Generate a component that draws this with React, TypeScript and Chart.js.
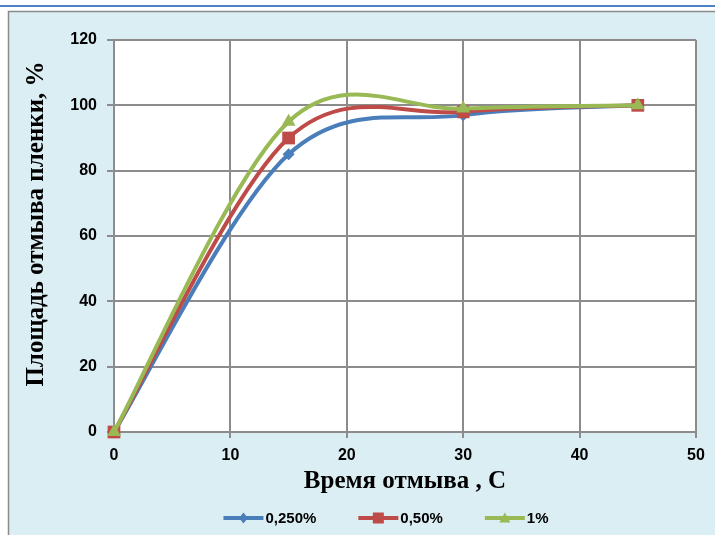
import React, { useEffect, useRef } from 'react';
import { Chart, registerables } from 'chart.js';

Chart.register(...registerables);

const timeValues = [0, 15, 30, 45];
const area025 = [0, 85, 97, 100];
const area050 = [0, 90, 98, 100];
const area1 = [0, 95, 99, 100];
const seriesNames = ['0,250%', '0,50%', '1%'];
const seriesColors = ['#4a7ebb', '#be4b48', '#98b954'];
const seriesMarkers = ['rectRot', 'rect', 'triangle'];
const xTickValues = [0, 10, 20, 30, 40, 50];
const yTickValues = [0, 20, 40, 60, 80, 100, 120];
const xTitle = 'Время отмыва , С';
const yTitle = 'Площадь отмыва пленки, %';

const GRID = '#8c8c8c';
const BG = '#dbeef4';
const TITLE_FONT = 'bold 25px "Liberation Serif", "Times New Roman", serif';

function drawMarker(ctx: CanvasRenderingContext2D, style: string, x: number, y: number, r: number, color: string) {
  ctx.save();
  ctx.fillStyle = color;
  ctx.beginPath();
  if (style === 'rectRot') {
    ctx.moveTo(x, y - r);
    ctx.lineTo(x + r * 0.8, y);
    ctx.lineTo(x, y + r);
    ctx.lineTo(x - r * 0.8, y);
  } else if (style === 'rect') {
    ctx.rect(x - r, y - r, 2 * r, 2 * r);
  } else {
    ctx.moveTo(x, y - r);
    ctx.lineTo(x + r, y + r * 0.8);
    ctx.lineTo(x - r, y + r * 0.8);
  }
  ctx.closePath();
  ctx.fill();
  ctx.restore();
}

// Excel-style smoothing: Catmull-Rom control points (1/6 of neighbour span)
const excelSmoothPlugin = {
  id: 'excelSmooth',
  beforeDatasetDraw(chart: any, args: any) {
    const meta = args.meta;
    const line = meta.dataset;
    if (!line) return;
    line.updateControlPoints(chart.chartArea, meta.indexAxis || 'x');
    const pts = meta.data;
    const n = pts.length;
    for (let i = 0; i < n; i++) {
      const p = pts[i];
      const prev = pts[Math.max(0, i - 1)];
      const next = pts[Math.min(n - 1, i + 1)];
      const dx = (next.x - prev.x) / 6;
      const dy = (next.y - prev.y) / 6;
      p.cp1x = p.x - dx;
      p.cp1y = p.y - dy;
      p.cp2x = p.x + dx;
      p.cp2y = p.y + dy;
    }
  },
};

const backgroundPlugin = {
  id: 'bgPlugin',
  beforeDraw(chart: any) {
    const { ctx, width, height, chartArea } = chart;
    ctx.save();
    ctx.fillStyle = '#ffffff';
    ctx.fillRect(0, 0, width, height);
    ctx.fillStyle = BG;
    ctx.fillRect(9, 11, width - 9, height - 11);
    ctx.strokeStyle = '#4f7fc4';
    ctx.lineWidth = 2;
    ctx.beginPath();
    ctx.moveTo(0, 6);
    ctx.lineTo(width, 6);
    ctx.stroke();
    ctx.strokeStyle = '#8a8a8a';
    ctx.lineWidth = 1.5;
    ctx.beginPath();
    ctx.moveTo(8.5, height);
    ctx.lineTo(8.5, 11.5);
    ctx.lineTo(width, 11.5);
    ctx.stroke();
    ctx.fillStyle = '#ffffff';
    ctx.fillRect(chartArea.left, chartArea.top, chartArea.right - chartArea.left, chartArea.bottom - chartArea.top);
    ctx.restore();
  },
};

const annotationsPlugin = {
  id: 'bottomLegendAndYTitle',
  afterDraw(chart: any) {
    const { ctx, chartArea } = chart;
    ctx.save();
    // Y axis title
    ctx.font = TITLE_FONT;
    ctx.fillStyle = '#000000';
    ctx.textAlign = 'center';
    ctx.textBaseline = 'middle';
    ctx.translate(37, (chartArea.top + chartArea.bottom) / 2 - 12);
    ctx.rotate(-Math.PI / 2);
    ctx.fillText(yTitle, 0, 0);
    ctx.restore();

    ctx.save();
    ctx.font = 'bold 15px "Liberation Sans", Arial, sans-serif';
    ctx.textBaseline = 'middle';
    const lineLen = 40;
    const gap = 42;
    const items = seriesNames.map((n) => ({ n, w: lineLen + 2 + ctx.measureText(n).width }));
    const total = items.reduce((s, it) => s + it.w, 0) + gap * (items.length - 1);
    let x = (chartArea.left + chartArea.right) / 2 - 19 - total / 2;
    const y = 518;
    items.forEach((it, i) => {
      ctx.strokeStyle = seriesColors[i];
      ctx.lineWidth = 4;
      ctx.beginPath();
      ctx.moveTo(x, y);
      ctx.lineTo(x + lineLen, y);
      ctx.stroke();
      drawMarker(ctx, seriesMarkers[i], x + lineLen / 2, y, 5.5, seriesColors[i]);
      ctx.fillStyle = '#000000';
      ctx.textAlign = 'left';
      ctx.fillText(it.n, x + lineLen + 2, y + 1);
      x += it.w + gap;
    });
    ctx.restore();
  },
};

export default function App() {
  const canvasRef = useRef<HTMLCanvasElement | null>(null);

  useEffect(() => {
    document.body.style.margin = '0';
    const canvas = canvasRef.current;
    if (!canvas) return;
    const mk = (vals: number[]) => timeValues.map((t, i) => ({ x: t, y: vals[i] }));
    const allSeries = [area025, area050, area1];
    const chart = new Chart(canvas, {
      type: 'line',
      data: {
        datasets: allSeries.map((vals, i) => ({
          label: seriesNames[i],
          data: mk(vals),
          borderColor: seriesColors[i],
          backgroundColor: seriesColors[i],
          borderWidth: 4,
          pointStyle: seriesMarkers[i] as any,
          pointRadius: i === 0 ? 6 : i === 1 ? 9 : 8,
          pointBorderWidth: 0,
          pointHoverRadius: 6,
          tension: 0.5,
          fill: false,
          clip: false as any,
          order: 3 - i,
        })),
      },
      options: {
        responsive: false,
        animation: false,
        events: [],
        layout: { padding: { left: 0, top: 40, right: 19, bottom: 0 } },
        plugins: {
          legend: { display: false },
          tooltip: { enabled: false },
        },
        scales: {
          x: {
            type: 'linear',
            min: 0,
            max: 50,
            afterBuildTicks: (scale: any) => {
              scale.ticks = xTickValues.map((v) => ({ value: v }));
            },
            afterFit: (scale: any) => {
              scale.height = 535 - 432;
            },
            grid: { color: GRID, lineWidth: 2, tickLength: 6, drawTicks: true, tickColor: GRID },
            border: { color: GRID, width: 2 },
            ticks: {
              color: '#000000',
              padding: 8,
              maxRotation: 0,
              font: { family: '"Liberation Sans", Arial, sans-serif', size: 16, weight: 'bold' },
            },
            title: {
              display: true,
              text: xTitle,
              color: '#000000',
              font: { family: '"Liberation Serif", "Times New Roman", serif', size: 25, weight: 'bold' },
              padding: { top: 0, bottom: 38 },
            },
          },
          y: {
            type: 'linear',
            min: 0,
            max: 120,
            afterBuildTicks: (scale: any) => {
              scale.ticks = yTickValues.map((v) => ({ value: v }));
            },
            afterFit: (scale: any) => {
              scale.width = 114;
            },
            grid: { color: GRID, lineWidth: 2, tickLength: 7, drawTicks: true, tickColor: GRID },
            border: { color: GRID, width: 2 },
            ticks: {
              color: '#000000',
              padding: 10,
              font: { family: '"Liberation Sans", Arial, sans-serif', size: 16, weight: 'bold' },
            },
            title: { display: false, text: yTitle },
          },
        },
      },
      plugins: [backgroundPlugin, excelSmoothPlugin, annotationsPlugin],
    });
    return () => chart.destroy();
  }, []);

  return (
    <div style={{ width: 715, height: 535 }}>
      <canvas ref={canvasRef} width={715} height={535} style={{ display: 'block' }} />
    </div>
  );
}
